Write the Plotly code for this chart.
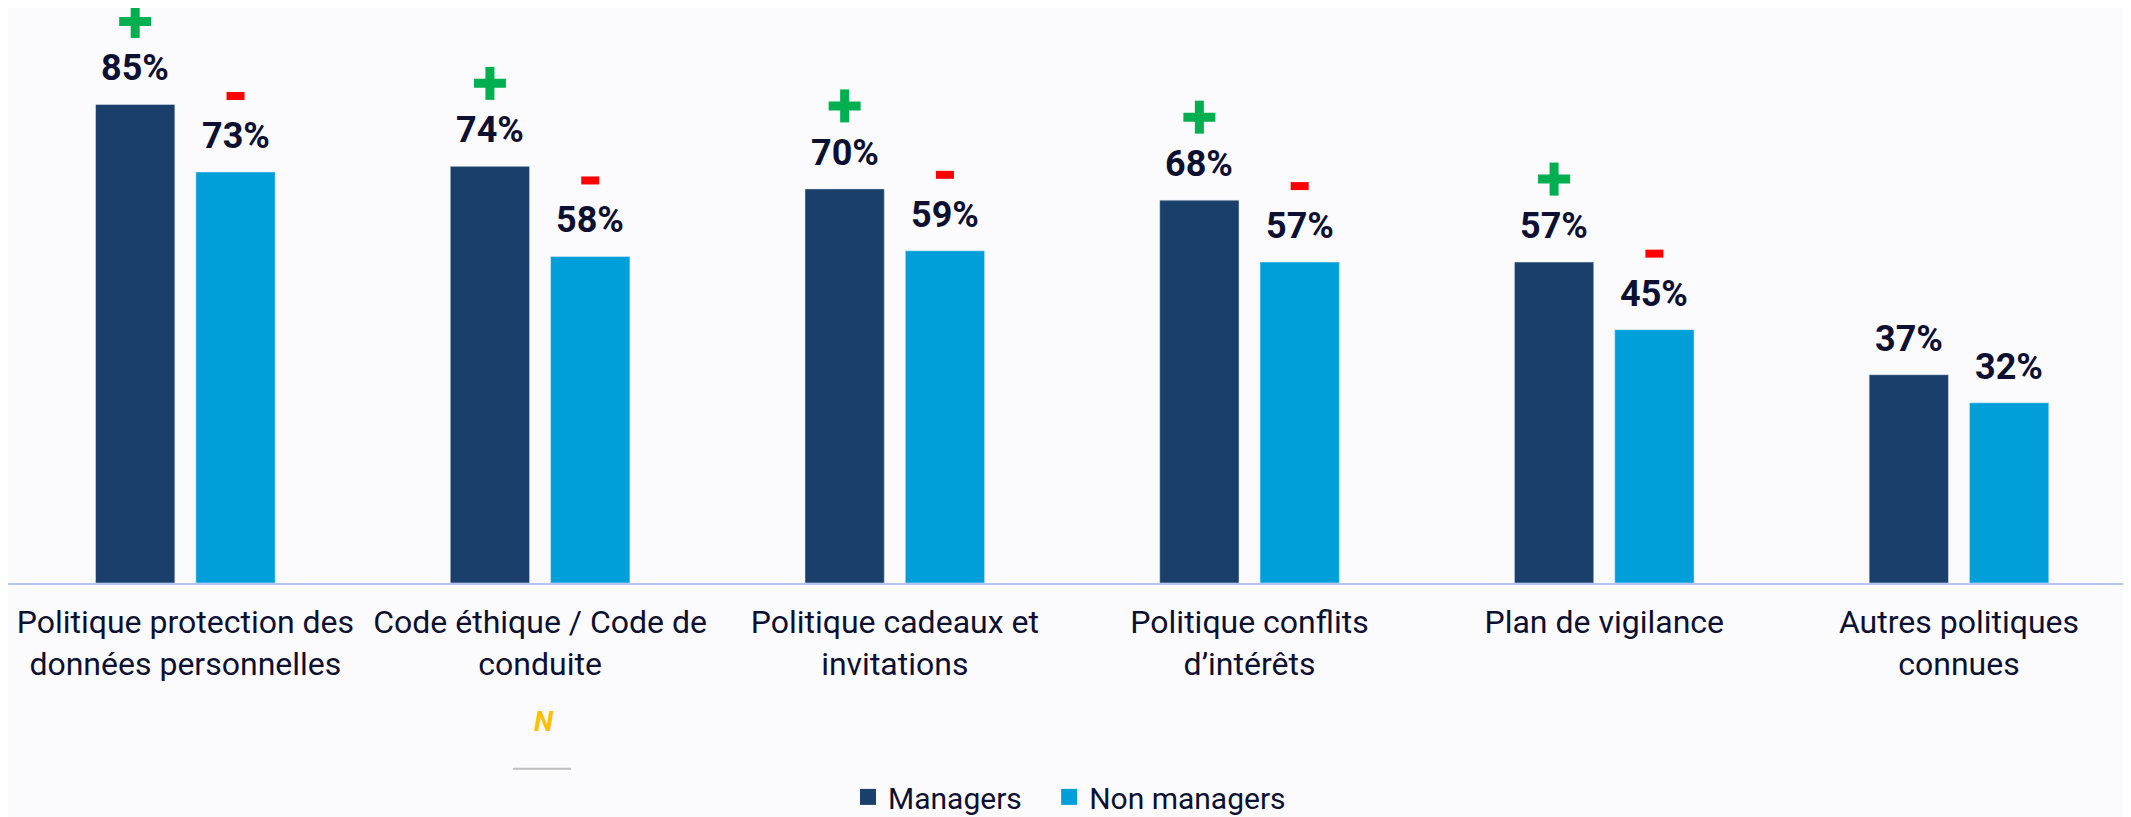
import plotly.graph_objects as go

categories = [
    "Politique protection des<br>données personnelles",
    "Code éthique / Code de<br>conduite",
    "Politique cadeaux et<br>invitations",
    "Politique conflits<br>d’intérêts",
    "Plan de vigilance",
    "Autres politiques<br>connues",
]
managers = [85, 74, 70, 68, 57, 37]
non_managers = [73, 58, 59, 57, 45, 32]
sig_managers = ["+", "+", "+", "+", "+", ""]
sig_non_managers = ["-", "-", "-", "-", "-", ""]
series_names = ["Managers", "Non managers"]

C_MGR = "#193F6A"
C_NON = "#009FD9"
C_TXT = "#0D1030"
C_BG = "#FBFBFE"
C_PLUS = "#00B050"
C_MINUS = "#FF0000"

BW = 0.2236   # bar width (axis units)
GAP = 0.0296  # half gap between the two bars
idx = list(range(len(categories)))

fig = go.Figure()
fig.add_trace(go.Bar(x=idx, y=managers, name=series_names[0], marker_color=C_MGR,
                     width=BW, offset=-(BW + GAP), showlegend=False, hoverinfo="skip"))
fig.add_trace(go.Bar(x=idx, y=non_managers, name=series_names[1], marker_color=C_NON,
                     width=BW, offset=GAP, showlegend=False, hoverinfo="skip"))
# legend entries (extra spacing after the first item)
for nm, col, pad in [(series_names[0], C_MGR, "\u00a0" * 3), (series_names[1], C_NON, "")]:
    fig.add_trace(go.Scatter(x=[None], y=[None], mode="markers", name=nm + pad,
                             marker=dict(symbol="square", size=18, color=col)))

centre = BW / 2 + GAP
annotations = []
shapes = []
for i in idx:
    for val, dx in [(managers[i], -centre), (non_managers[i], centre)]:
        annotations.append(dict(x=i + dx, y=val, xref="x", yref="y", text=f"{val}%",
                                showarrow=False, xanchor="center", yanchor="middle", yshift=36,
                                font=dict(family="Roboto", size=36, color=C_TXT, weight="bold")))
    if sig_managers[i] == "+":
        xa, ya = i - centre, managers[i]
        for w, h in [(32, 9), (9, 33)]:
            shapes.append(dict(type="rect", xref="x", yref="y", xsizemode="pixel", ysizemode="pixel",
                               xanchor=xa, yanchor=ya, x0=-w / 2, x1=w / 2, y0=83 - h / 2, y1=83 + h / 2,
                               fillcolor=C_PLUS, line=dict(width=0)))
    if sig_non_managers[i] == "-":
        xa, ya = i + centre, non_managers[i]
        shapes.append(dict(type="rect", xref="x", yref="y", xsizemode="pixel", ysizemode="pixel",
                           xanchor=xa, yanchor=ya, x0=-9, x1=9, y0=76 - 4, y1=76 + 4,
                           fillcolor=C_MINUS, line=dict(width=0)))

annotations.append(dict(x=0.2525, y=-0.2417, xref="paper", yref="paper", text="N", showarrow=False,
                        xanchor="center", yanchor="middle",
                        font=dict(family="Roboto", size=28, color="#FFC000", weight="bold", style="italic")))
shapes.append(dict(type="line", xref="paper", yref="paper", x0=0.2379, x1=0.2652, y0=-0.323, y1=-0.323,
                   line=dict(color="#BFBFBF", width=2)))

fig.update_layout(
    width=2123, height=809,
    margin=dict(l=0, r=0, t=0, b=234, autoexpand=False),
    paper_bgcolor=C_BG, plot_bgcolor=C_BG,
    barmode="overlay",
    font=dict(family="Roboto", color=C_TXT),
    xaxis=dict(tickvals=idx, ticktext=categories, range=[-0.5, 5.485], automargin=False,
               showline=True, linecolor="#B4C4F4", linewidth=2, showgrid=False, zeroline=False,
               ticks="", ticklabelstandoff=10, tickfont=dict(family="Roboto", size=32, color=C_TXT)),
    yaxis=dict(visible=False, range=[0, 102.13], showgrid=False, zeroline=False, automargin=False),
    legend=dict(orientation="h", x=0.5, xanchor="center", y=-0.372, yanchor="middle",
                font=dict(family="Roboto", size=30, color=C_TXT), bgcolor="rgba(0,0,0,0)",
                borderwidth=0),
    annotations=annotations,
    shapes=shapes,
    showlegend=True,
)

fig.write_html("out.html")
